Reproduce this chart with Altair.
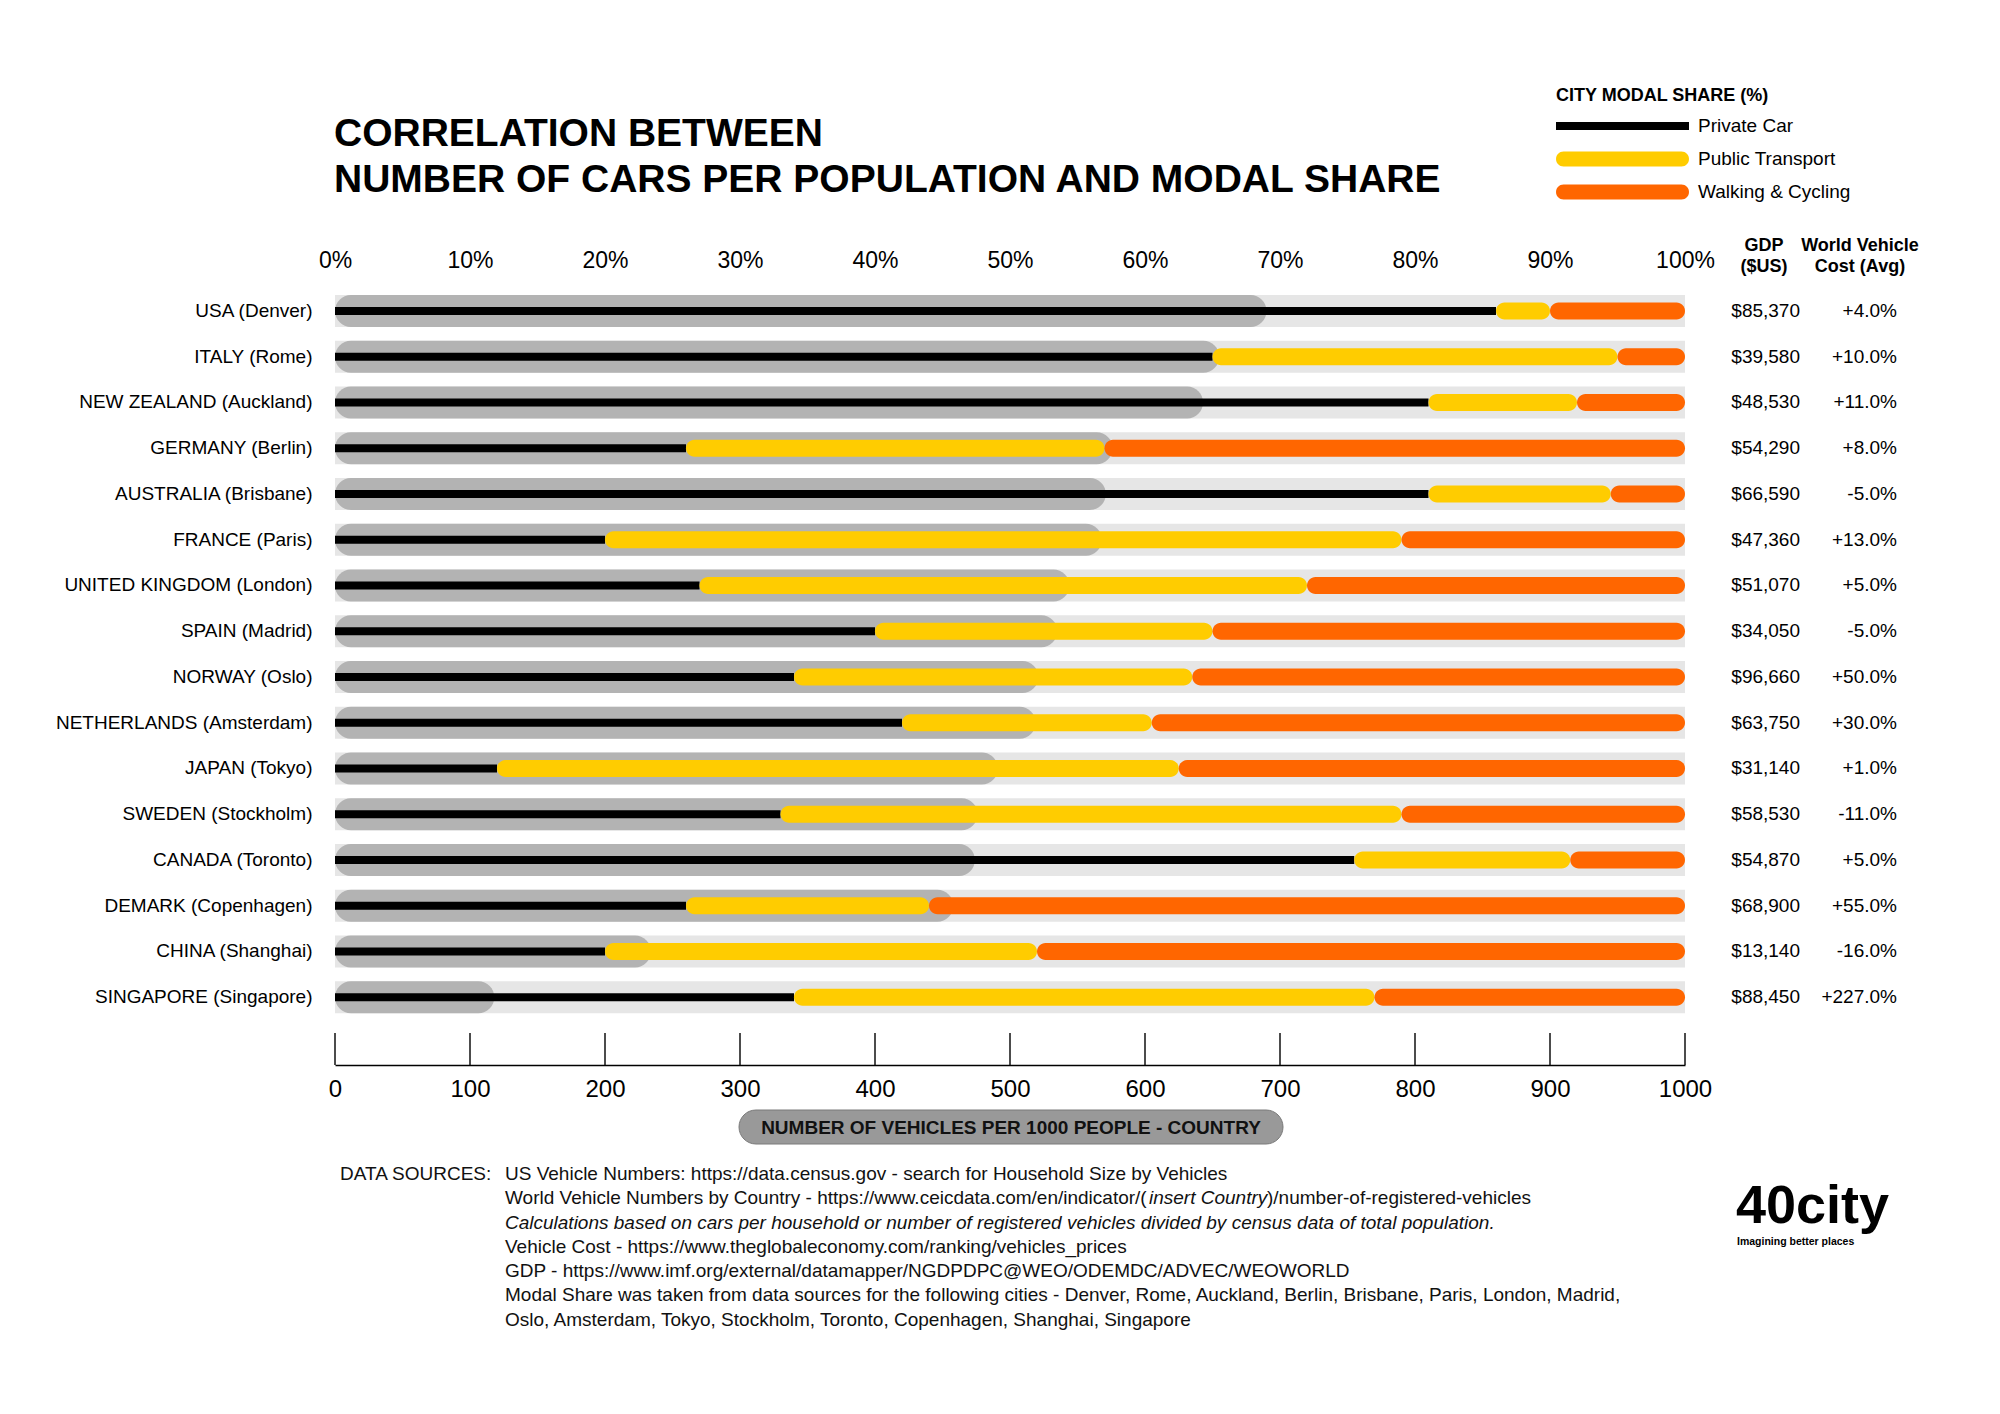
import altair as alt
import pandas as pd

# ---------------- data ----------------
countries = [
    "USA (Denver)", "ITALY (Rome)", "NEW ZEALAND (Auckland)", "GERMANY (Berlin)",
    "AUSTRALIA (Brisbane)", "FRANCE (Paris)", "UNITED KINGDOM (London)", "SPAIN (Madrid)",
    "NORWAY (Oslo)", "NETHERLANDS (Amsterdam)", "JAPAN (Tokyo)", "SWEDEN (Stockholm)",
    "CANADA (Toronto)", "DEMARK (Copenhagen)", "CHINA (Shanghai)", "SINGAPORE (Singapore)",
]
vehicles_per_1000 = [690, 655, 643, 576, 571, 568, 544, 535, 521, 519, 491, 476, 474, 458, 234, 118]
private_car = [86, 65, 81, 26, 81, 20, 27, 40, 34, 42, 12, 33, 75.5, 26, 20, 34]
public_transport = [4, 30, 11, 31, 13.5, 59, 45, 25, 29.5, 18.5, 50.5, 46, 16, 18, 32, 43]
walking_cycling = [10, 5, 8, 43, 5.5, 21, 28, 35, 36.5, 39.5, 37.5, 21, 8.5, 56, 48, 23]
gdp_labels = ["$85,370", "$39,580", "$48,530", "$54,290", "$66,590", "$47,360", "$51,070", "$34,050",
              "$96,660", "$63,750", "$31,140", "$58,530", "$54,870", "$68,900", "$13,140", "$88,450"]
cost_labels = ["+4.0%", "+10.0%", "+11.0%", "+8.0%", "-5.0%", "+13.0%", "+5.0%", "-5.0%",
               "+50.0%", "+30.0%", "+1.0%", "-11.0%", "+5.0%", "+55.0%", "-16.0%", "+227.0%"]
pct_ticks = [0, 10, 20, 30, 40, 50, 60, 70, 80, 90, 100]
vehicle_ticks = [0, 100, 200, 300, 400, 500, 600, 700, 800, 900, 1000]
modes = ["Private Car", "Public Transport", "Walking & Cycling"]
mode_colors = ["#000000", "#ffcc00", "#ff6600"]

title_lines = ["CORRELATION BETWEEN", "NUMBER OF CARS PER POPULATION AND MODAL SHARE"]
gdp_header = ["GDP", "($US)"]
cost_header = ["World Vehicle", "Cost (Avg)"]
x_axis_title = "NUMBER OF VEHICLES PER 1000 PEOPLE - COUNTRY"
sources_head = "DATA SOURCES:"
sources_line1 = "US Vehicle Numbers: https://data.census.gov - search for Household Size by Vehicles"
sources_line2 = ["World Vehicle Numbers by Country - https://www.ceicdata.com/en/indicator/(",
                 "insert Country", ")/number-of-registered-vehicles"]
sources_italic = "Calculations based on cars per household or number of registered vehicles divided by census data of total population."
sources_rest = [
    "Vehicle Cost - https://www.theglobaleconomy.com/ranking/vehicles_prices",
    "GDP - https://www.imf.org/external/datamapper/NGDPDPC@WEO/ODEMDC/ADVEC/WEOWORLD",
    "Modal Share was taken from data sources for the following cities - Denver, Rome, Auckland, Berlin, Brisbane, Paris, London, Madrid,",
    "Oslo, Amsterdam, Tokyo, Stockholm, Toronto, Copenhagen, Shanghai, Singapore",
]

# ---------------- styling ----------------
FONT = "Liberation Sans"
W, H = 1350, 732
BG_GREY = "#e6e6e6"
VEH_GREY = "#b3b3b3"

df = pd.DataFrame({
    "country": countries, "vehicles": vehicles_per_1000, "car": private_car,
    "pt": public_transport, "walk": walking_cycling, "gdp": gdp_labels, "cost": cost_labels,
})
one = pd.DataFrame({"k": [0]})

base = alt.Chart(df).transform_calculate(
    start="0", pt_end="datum.car + datum.pt", total="datum.car + datum.pt + datum.walk"
)

y_enc = alt.Y(
    "country:N", sort=countries,
    scale=alt.Scale(domain=countries, paddingInner=0, paddingOuter=0),
    axis=alt.Axis(title=None, ticks=False, tickSize=0, domain=False, labelPadding=23,
                  labelFontSize=19, labelColor="#000", labelFont=FONT, labelLimit=400),
)

pct_scale = alt.Scale(domain=[0, 100], nice=False)
pct_axis = alt.Axis(orient="top", values=pct_ticks, labelExpr="datum.value + '%'", title=None,
                    ticks=False, tickSize=0, domain=False, grid=False, labelFontSize=23,
                    labelPadding=16, labelFlush=False, labelColor="#000", labelFont=FONT)
veh_scale = alt.Scale(domain=[0, 1000], nice=False)
veh_axis = alt.Axis(orient="bottom", offset=45, values=vehicle_ticks, format="d", title=None,
                    ticks=False, tickSize=0, domain=True, domainColor="#000", domainWidth=1.5,
                    grid=False, labelFontSize=24, labelPadding=12, labelFlush=False,
                    labelColor="#000", labelFont=FONT)

# background full-width band
bg = base.mark_bar(size=32, color=BG_GREY).encode(
    x=alt.X("start:Q", scale=pct_scale, axis=None), x2="total:Q", y=y_enc)

# vehicles per 1000 layer
grey = base.mark_bar(size=32, cornerRadius=16, color=VEH_GREY).encode(
    x=alt.X("start:Q", scale=veh_scale, axis=veh_axis), x2="vehicles:Q", y=y_enc)
tick_rules = alt.Chart(pd.DataFrame({"tick": vehicle_ticks})).mark_rule(
    color="#111", strokeWidth=1.5).encode(
    x=alt.X("tick:Q", scale=veh_scale, axis=veh_axis),
    y=alt.value(H + 13), y2=alt.value(H + 45))
pill = alt.Chart(one).mark_rect(color="#999999", cornerRadius=17, stroke="#7a7a7a",
                                strokeWidth=1).encode(
    x=alt.value(404), x2=alt.value(948), y=alt.value(822), y2=alt.value(856))
pill_text = alt.Chart(one).mark_text(text=x_axis_title, font=FONT, fontSize=19, fontWeight="bold",
                                     color="#111", align="center", baseline="middle").encode(
    x=alt.value(676), y=alt.value(840))
veh_layer = alt.layer(grey, tick_rules, pill, pill_text)

# modal share layer
x_pct = lambda f: alt.X(f"{f}:Q", scale=pct_scale, axis=pct_axis)
black = base.mark_bar(size=8, color="#000").encode(x=x_pct("start"), x2="car:Q", y=y_enc)
yellow = base.mark_bar(size=17, cornerRadius=8.5, color="#ffcc00").encode(
    x=x_pct("car"), x2="pt_end:Q", y=y_enc)
orange = base.mark_bar(size=17, cornerRadius=8.5, color="#ff6600").encode(
    x=x_pct("pt_end"), x2="total:Q", y=y_enc)

pill_path = "M-0.25,-0.75 L11.55,-0.75 A0.75,0.75 0 0 1 11.55,0.75 L-0.25,0.75 A0.75,0.75 0 0 1 -0.25,-0.75 Z"
line_path = "M-1,-0.4 L12.3,-0.4 L12.3,0.4 L-1,0.4 Z"
legend_obj = alt.Legend(
    title="CITY MODAL SHARE (%)", orient="none", legendX=1221, legendY=-201,
    titleFontSize=18, titleFontWeight="bold", titleFont=FONT, titleColor="#000", titlePadding=11,
    titleLimit=500, labelLimit=400,
    labelFontSize=19, labelFont=FONT, labelColor="#000", labelOffset=122,
    symbolSize=400, symbolStrokeWidth=0, symbolOpacity=1, rowPadding=13, padding=0,
)
legend_pts = alt.Chart(pd.DataFrame({"mode": modes})).mark_point(filled=True, opacity=0).encode(
    color=alt.Color("mode:N", scale=alt.Scale(domain=modes, range=mode_colors), legend=legend_obj),
    shape=alt.Shape("mode:N", scale=alt.Scale(domain=modes, range=[line_path, pill_path, pill_path]),
                    legend=legend_obj),
)

gdp_text = base.mark_text(align="right", baseline="middle", fontSize=19, font=FONT, color="#000").encode(
    y=y_enc, x=alt.value(1465), text="gdp:N")
cost_text = base.mark_text(align="right", baseline="middle", fontSize=19, font=FONT, color="#000").encode(
    y=y_enc, x=alt.value(1562), text="cost:N")

hdr_gdp = alt.Chart(one).mark_text(text=gdp_header, font=FONT, fontSize=18, fontWeight="bold",
                                   align="center", baseline="middle", lineHeight=21, color="#000").encode(
    x=alt.value(1429), y=alt.value(-42))
hdr_cost = alt.Chart(one).mark_text(text=cost_header, font=FONT, fontSize=18, fontWeight="bold",
                                    align="center", baseline="middle", lineHeight=21, color="#000").encode(
    x=alt.value(1525), y=alt.value(-42))

title = alt.Chart(one).mark_text(text=title_lines, font=FONT, fontSize=39, fontWeight="bold",
                                 align="left", baseline="alphabetic", lineHeight=46, color="#000").encode(
    x=alt.value(-1), y=alt.value(-142))

src_style = dict(font=FONT, fontSize=19, align="left", baseline="alphabetic", lineHeight=24.3, color="#111")
Y0, LH, X0 = 892, 24.3, 170
src_head = alt.Chart(one).mark_text(text=sources_head, **src_style).encode(x=alt.value(5), y=alt.value(Y0))
src_1 = alt.Chart(one).mark_text(text=sources_line1, **src_style).encode(x=alt.value(X0), y=alt.value(Y0))
src_2a = alt.Chart(one).mark_text(text=sources_line2[0], **src_style).encode(
    x=alt.value(X0), y=alt.value(Y0 + LH))
src_2b = alt.Chart(one).mark_text(text=sources_line2[1], fontStyle="italic", **src_style).encode(
    x=alt.value(X0 + 644), y=alt.value(Y0 + LH))
src_2c = alt.Chart(one).mark_text(text=sources_line2[2], **src_style).encode(
    x=alt.value(X0 + 762), y=alt.value(Y0 + LH))
src_3 = alt.Chart(one).mark_text(text=sources_italic, fontStyle="italic", **src_style).encode(
    x=alt.value(X0), y=alt.value(Y0 + 2 * LH))
src_4 = alt.Chart(one).mark_text(text=sources_rest, **src_style).encode(
    x=alt.value(X0), y=alt.value(Y0 + 3 * LH))

logo_big = alt.Chart(one).mark_text(text="40city", font=FONT, fontSize=54, fontWeight="bold",
                                    align="left", baseline="alphabetic", color="#000").encode(
    x=alt.value(1401), y=alt.value(935))
logo_small = alt.Chart(one).mark_text(text="Imagining better places", font=FONT, fontSize=10.5,
                                      fontWeight="bold", align="left", baseline="alphabetic",
                                      color="#000").encode(x=alt.value(1402), y=alt.value(957))

pct_layer = alt.layer(black, yellow, orange, legend_pts, gdp_text, cost_text, hdr_gdp, hdr_cost,
                      title, src_head, src_1, src_2a, src_2b, src_2c, src_3, src_4,
                      logo_big, logo_small)

chart = alt.layer(bg, veh_layer, pct_layer).resolve_scale(x="independent").properties(
    width=W, height=H, autosize="none",
    padding={"left": 327, "top": 280, "right": 300, "bottom": 370},
).configure(font=FONT).configure_view(stroke=None)

chart.save("out.html", embed_options={"renderer": "svg", "actions": False})
